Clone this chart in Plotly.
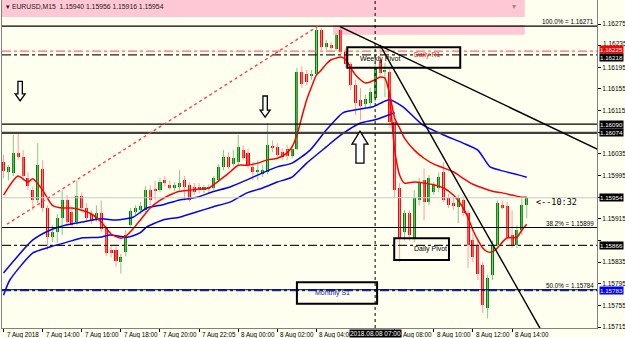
import plotly.graph_objects as go

# ---------------- data (EURUSD M15, bar index 0 = 7 Aug 12:00) ----------------
bars = list(range(108))
open_ = [1.16020,1.16001,1.15999,1.16036,1.16029,1.15990,1.15968,1.15949,1.16008,1.15935,
         1.15881,1.15890,1.15916,1.15949,1.15927,1.15909,1.15957,1.15935,1.15924,1.15914,
         1.15925,1.15898,1.15857,1.15857,1.15835,1.15853,1.15903,1.15927,1.15931,1.15931,
         1.15968,1.15968,1.15968,1.15986,1.15977,1.15972,1.15973,1.15986,1.15977,1.15973,
         1.15973,1.15968,1.15972,1.15972,1.15986,1.16010,1.16029,1.16016,1.16020,1.16042,
         1.16036,1.16010,1.16001,1.15997,1.16001,1.16049,1.16047,1.16038,1.16045,1.16031,
         1.16045,1.16186,1.16183,1.16179,1.16183,1.16264,1.16232,1.16236,1.16229,1.16264,
         1.16223,1.16201,1.16162,1.16135,1.16127,1.16129,1.16138,1.16209,1.16186,1.16186,
         1.16094,1.15972,1.15890,1.15925,1.15879,1.15949,1.15986,1.15946,1.15964,1.15972,
         1.16001,1.15953,1.15944,1.15936,1.15949,1.15925,1.15875,1.15866,1.15829,1.15750,
         1.15811,1.15866,1.15940,1.15938,1.15885,1.15866,1.15894,1.15940]
high = [1.16033,1.16014,1.16070,1.16075,1.16042,1.16001,1.15975,1.16055,1.16023,1.15940,
        1.15903,1.15924,1.15968,1.15959,1.15935,1.15986,1.15964,1.15944,1.15931,1.15940,
        1.15949,1.15903,1.15866,1.15864,1.15850,1.15894,1.15935,1.15940,1.15946,1.15975,
        1.15977,1.15986,1.15990,1.15994,1.15986,1.15983,1.16005,1.15994,1.15983,1.15981,
        1.15981,1.15977,1.15979,1.15994,1.16016,1.16042,1.16038,1.16042,1.16070,1.16051,
        1.16045,1.16020,1.16023,1.16014,1.16092,1.16060,1.16055,1.16045,1.16051,1.16051,
        1.16194,1.16197,1.16190,1.16190,1.16271,1.16268,1.16246,1.16242,1.16258,1.16268,
        1.16231,1.16205,1.16172,1.16157,1.16144,1.16157,1.16205,1.16236,1.16203,1.16194,
        1.16101,1.15981,1.15931,1.15931,1.15968,1.15990,1.16008,1.15996,1.15983,1.16001,
        1.16020,1.15961,1.15955,1.15959,1.15957,1.15931,1.15888,1.15875,1.15835,1.15811,
        1.15875,1.15949,1.15949,1.15946,1.15931,1.15903,1.15953,1.15956]
low = [1.15990,1.15986,1.15994,1.16023,1.15986,1.15968,1.15931,1.15944,1.15927,1.15857,
       1.15872,1.15870,1.15885,1.15903,1.15898,1.15903,1.15927,1.15909,1.15905,1.15909,
       1.15890,1.15846,1.15844,1.15826,1.15814,1.15846,1.15898,1.15920,1.15924,1.15927,
       1.15940,1.15949,1.15964,1.15975,1.15968,1.15966,1.15968,1.15949,1.15946,1.15959,
       1.15962,1.15962,1.15964,1.15968,1.15983,1.16005,1.16007,1.16012,1.16016,1.16023,
       1.16008,1.15986,1.15986,1.15992,1.15997,1.16038,1.16029,1.16023,1.16023,1.16027,
       1.16042,1.16157,1.16162,1.16172,1.16179,1.16227,1.16227,1.16227,1.16225,1.16218,
       1.16194,1.16153,1.16107,1.16097,1.16120,1.16123,1.16131,1.16179,1.16140,1.16083,
       1.15955,1.15835,1.15875,1.15875,1.15872,1.15940,1.15912,1.15940,1.15959,1.15964,
       1.15946,1.15935,1.15931,1.15907,1.15920,1.15824,1.15835,1.15802,1.15741,1.15731,
       1.15802,1.15861,1.15933,1.15875,1.15861,1.15861,1.15885,1.15916]
close = [1.16003,1.16010,1.16036,1.16029,1.15994,1.15975,1.15949,1.16014,1.15935,1.15881,
         1.15890,1.15916,1.15949,1.15909,1.15903,1.15957,1.15935,1.15916,1.15911,1.15925,
         1.15896,1.15851,1.15851,1.15838,1.15844,1.15885,1.15929,1.15935,1.15938,1.15968,
         1.15949,1.15967,1.15983,1.15981,1.15972,1.15977,1.15981,1.15973,1.15949,1.15964,
         1.15968,1.15973,1.15971,1.15990,1.16010,1.16029,1.16010,1.16027,1.16047,1.16027,
         1.16014,1.16001,1.16005,1.16005,1.16051,1.16047,1.16033,1.16029,1.16031,1.16045,
         1.16186,1.16164,1.16168,1.16183,1.16264,1.16232,1.16240,1.16231,1.16255,1.16223,
         1.16201,1.16162,1.16129,1.16123,1.16136,1.16149,1.16194,1.16185,1.16190,1.16094,
         1.15968,1.15879,1.15925,1.15885,1.15953,1.15983,1.15946,1.15990,1.15977,1.15992,
         1.15949,1.15940,1.15938,1.15953,1.15925,1.15866,1.15844,1.15814,1.15755,1.15805,
         1.15866,1.15944,1.15935,1.15881,1.15866,1.15894,1.15940,1.15954]

# moving averages (bar index, value)
red_ma_x = [0,2,3,5,6,8,10,12,14,16,18,20,22,24,25,27,28,30,32,34,36,38,40,42,44,46,48,50,52,54,
            56,58,59,60,61,62,63,64,65,66,67,68,69,70,71,72,73,74,75,76,77,78,79,80,81,82,84,86,
            88,90,92,94,96,98,100,102,104,106,107]
red_ma_y = [1.15959,1.15986,1.15994,1.15983,1.15989,1.15968,1.15940,1.15935,1.15935,1.15931,
            1.15924,1.15909,1.15887,1.15879,1.15883,1.15902,1.15913,1.15935,1.15949,1.15959,
            1.15966,1.15968,1.15970,1.15972,1.15985,1.15999,1.16014,1.16014,1.16018,1.16024,
            1.16027,1.16037,1.16048,1.16070,1.16103,1.16135,1.16159,1.16181,1.16190,1.16201,
            1.16209,1.16212,1.16214,1.16209,1.16194,1.16181,1.16172,1.16166,1.16168,1.16172,
            1.16177,1.16175,1.16144,1.16101,1.16083,1.16064,1.16042,1.16027,1.16016,1.16009,
            1.16002,1.15990,1.15979,1.15972,1.15966,1.15963,1.15959,1.15955,1.15955]
red_fast_x = [79,80,81,82,84,86,88,90,92,94,95,96,97,98,99,100,101,102,103,104,105,106,107]
red_fast_y = [1.16144,1.16042,1.15996,1.15981,1.15983,1.15981,1.15978,1.15972,1.15959,1.15935,
              1.15917,1.15894,1.15876,1.15861,1.15854,1.15854,1.15861,1.15872,1.15880,1.15880,
              1.15881,1.15894,1.15905]
blue1_x = [0,6,9.5,13,16,20,23,26.5,29.3,32.6,36,39.6,42.8,46.3,49.8,53,56,59,62.7,66,69.4,73,
           75.6,77.6,79,81.7,85.8,90,94,97,99.5,101.5,107]
blue1_y = [1.15815,1.15876,1.15894,1.15904,1.15909,1.15915,1.15913,1.15918,1.15935,1.15941,
           1.15950,1.15955,1.15965,1.15974,1.15987,1.16000,1.16011,1.16018,1.16042,1.16079,
           1.16111,1.16118,1.16122,1.16131,1.16135,1.16122,1.16088,1.16070,1.16055,1.16042,
           1.16011,1.16005,1.15992]
blue2_x = [0,1.3,6,9.5,13,16.3,19.7,21.8,25.3,27.9,29.3,32.6,36,39.6,42.8,46.3,49.8,53,56,59,
           62,66,69,73,76,80]
blue2_y = [1.15774,1.15802,1.15852,1.15863,1.15872,1.15880,1.15881,1.15885,1.15881,1.15889,
           1.15900,1.15913,1.15918,1.15928,1.15937,1.15946,1.15963,1.15972,1.15983,1.15992,
           1.16018,1.16048,1.16070,1.16092,1.16098,1.16111]

# horizontal objects
fib_levels = [1.16271, 1.15899, 1.15784]
fib_texts = ["100.0% = 1.16271", "38.2% = 1.15899", "50.0% = 1.15784"]
daily_r1 = 1.16225
weekly_pivot = 1.16218
res_line_1 = 1.16090
res_line_2 = 1.16074
bid_price = 1.15954
daily_pivot = 1.15866
monthly_s1 = 1.15783

# trend lines (bar, price)
fib_line = [(0.7, 1.15905), (64.3, 1.16271)]
trend_1 = [(68.8, 1.16270), (121.4, 1.16044)]
trend_2 = [(77.0, 1.16236), (109.7, 1.15713)]
crosshair_bar = 76

# axis ticks (labels hidden behind price boxes are left blank; 1.16235 is lifted slightly)
y_ticks = [1.15715,1.15755,1.15795,1.15835,1.15875,1.15915,1.15955,1.15995,1.16035,1.16075,
           1.16115,1.16155,1.16195,1.16235,1.16275]
y_tick_text = ["1.15715","1.15755","1.15795","1.15835","","1.15915","","1.15995","1.16035","",
               "1.16115","1.16155","1.16195","","1.16275"]
lifted_tick = (1.16235, "1.16235")
x_tick_bars = [0, 8, 16, 24, 32, 40, 48, 56, 64, 80, 88, 96, 104]
x_tick_text = ["7 Aug 2018", "7 Aug 14:00", "7 Aug 16:00", "7 Aug 18:00", "7 Aug 20:00",
               "7 Aug 22:05", "8 Aug 00:00", "8 Aug 02:00", "8 Aug 04:00", "8 Aug 08:00",
               "8 Aug 10:00", "8 Aug 12:00", "8 Aug 14:00"]

# ---------------- figure ----------------
BG = '#FFFFF0'
W, H = 625, 338
ML, MR, MT, MB = 2, 28, 0, 10
PW, PH = W - ML - MR, H - MT - MB
X0, X1 = -0.31, 121.37
Y0, Y1 = 1.157133, 1.163194
BPP = (X1 - X0) / PW      # bars per pixel
PPP = (Y1 - Y0) / PH      # price per pixel
FONT = "Liberation Sans, Arial, sans-serif"

fig = go.Figure()

up = [i for i in bars if close[i] >= open_[i]]
dn = [i for i in bars if close[i] < open_[i]]


def wicks(idx):
    xs, ys = [], []
    for i in idx:
        xs += [bars[i], bars[i], None]
        ys += [low[i], high[i], None]
    return xs, ys


for idx, col in ((up, '#86C886'), (dn, '#FF9C9C')):
    wx, wy = wicks(idx)
    fig.add_trace(go.Scatter(x=wx, y=wy, mode='lines', line=dict(color=col, width=1),
                             hoverinfo='skip', showlegend=False))

for idx, col in ((up, '#008000'), (dn, '#FF0000')):
    base = [min(open_[i], close[i]) for i in idx]
    hgt = [max(abs(close[i] - open_[i]), 0.000016) for i in idx]
    fig.add_trace(go.Bar(x=[bars[i] for i in idx], y=hgt, base=base, width=0.62,
                         marker=dict(color=col, line=dict(width=0)),
                         hoverinfo='skip', showlegend=False))

for xs, ys, col in ((blue2_x, blue2_y, '#0000FF'), (blue1_x, blue1_y, '#0000FF'),
                    (red_ma_x, red_ma_y, '#FF0000'), (red_fast_x, red_fast_y, '#FF0000')):
    fig.add_trace(go.Scatter(x=xs, y=ys, mode='lines',
                             line=dict(color=col, width=1.5, shape='spline', smoothing=0.6),
                             hoverinfo='skip', showlegend=False))

shapes = []
# pink zones
shapes.append(dict(type='rect', xref='x', yref='y', x0=X0, x1=106.6, y0=1.16288, y1=Y1,
                   fillcolor='#FFC8D4', line=dict(width=0), layer='below'))
shapes.append(dict(type='rect', xref='x', yref='y', x0=67.4, x1=106.6, y0=1.16255, y1=1.16273,
                   fillcolor='#FFC8D4', line=dict(width=0), layer='below'))


def hline(p, color, width=1, dash='solid'):
    shapes.append(dict(type='line', xref='x', yref='y', x0=X0, x1=X1, y0=p, y1=p,
                       line=dict(color=color, width=width, dash=dash), layer='above'))


hline(bid_price, '#C8C8C8', 1)
hline(daily_r1, '#FF6A6A', 1.3, 'dashdot')
hline(weekly_pivot, '#202020', 1.3, 'dashdot')
hline(res_line_1, '#000000', 1.2)
hline(res_line_2, '#404040', 2.2)
hline(daily_pivot, '#202020', 1.2, 'dashdot')
hline(monthly_s1, '#1030FF', 2, 'dashdot')
for p in fib_levels:
    hline(p, '#000000', 1.2)

for (a, b), col, dash in ((fib_line, '#FF4040', 'dot'), (trend_1, '#000000', 'solid'),
                          (trend_2, '#000000', 'solid')):
    shapes.append(dict(type='line', xref='x', yref='y', x0=a[0], y0=a[1], x1=b[0], y1=b[1],
                       line=dict(color=col, width=1.4, dash=dash), layer='above'))

shapes.append(dict(type='line', xref='x', yref='y', x0=crosshair_bar, x1=crosshair_bar,
                   y0=Y0, y1=Y1, line=dict(color='#000000', width=1, dash='dot'), layer='above'))

# label boxes (bar from, bar to, price low, price high)
boxes = [(70.3, 93.4, 1.16194, 1.16232), (79.9, 91.1, 1.15839, 1.15879), (60.0, 76.4, 1.15758, 1.15798)]
for bx0, bx1, by0, by1 in boxes:
    shapes.append(dict(type='rect', xref='x', yref='y', x0=bx0, x1=bx1, y0=by0, y1=by1,
                       line=dict(color='#000000', width=2), fillcolor='rgba(0,0,0,0)', layer='above'))


# hollow arrows (centre bar, top price, bottom price, direction, shaft px, head px, head height px)
arrows = [(3.4, 1.16169, 1.16133, 'down', 2.2, 5, 7),
          (53.5, 1.16142, 1.16103, 'down', 2.2, 5, 7),
          (72.9, 1.16077, 1.16018, 'up', 4, 8, 13)]
for cx, top, bot, d, sw, hw, hh in arrows:
    sx, hx, hy = sw * BPP, hw * BPP, hh * PPP
    if d == 'down':
        pts = [(cx - sx, top), (cx + sx, top), (cx + sx, bot + hy), (cx + hx, bot + hy), (cx, bot),
               (cx - hx, bot + hy), (cx - sx, bot + hy)]
    else:
        pts = [(cx - sx, bot), (cx + sx, bot), (cx + sx, top - hy), (cx + hx, top - hy), (cx, top),
               (cx - hx, top - hy), (cx - sx, top - hy)]
    path = 'M ' + ' L '.join(f'{px},{py}' for px, py in pts) + ' Z'
    shapes.append(dict(type='path', xref='x', yref='y', path=path, fillcolor='#FFFFFF',
                       line=dict(color='#000000', width=1.3), layer='above'))

ann = []
# header
ann.append(dict(text='▾ EURUSD,M15  1.15940 1.15956 1.15916 1.15954', xref='paper', yref='paper',
                x=0.004, y=0.998, xanchor='left', yanchor='top', showarrow=False,
                font=dict(family=FONT, size=6.8, color='#202020')))
ann.append(dict(text='▾', xref='paper', yref='paper', x=0.86, y=1.0, xanchor='center',
                yanchor='top', showarrow=False, font=dict(family=FONT, size=8, color='#909090')))
for p, t in zip(fib_levels, fib_texts):
    ann.append(dict(text=t, xref='x', yref='y', x=X1, y=p, xanchor='right', yanchor='bottom',
                    xshift=-1, yshift=-1, showarrow=False, font=dict(family=FONT, size=6.3, color='#000000')))
ann.append(dict(text='Weekly Pivot', xref='x', yref='y', x=77.0, y=1.16211, showarrow=False,
                font=dict(family=FONT, size=7, color='#000000')))
ann.append(dict(text='Daily R1', xref='x', yref='y', x=86.8, y=1.16217, showarrow=False,
                font=dict(family=FONT, size=7, color='#FF2020')))
ann.append(dict(text='Daily Pivot', xref='x', yref='y', x=87.3, y=1.15859, showarrow=False,
                font=dict(family=FONT, size=7, color='#000000')))
ann.append(dict(text='Monthly S1', xref='x', yref='y', x=67.3, y=1.15778, showarrow=False,
                font=dict(family=FONT, size=7, color='#1020A0')))
ann.append(dict(text='<--10:32', xref='x', yref='y', x=108.5, y=bid_price, xanchor='left',
                yanchor='middle', yshift=-4, showarrow=False,
                font=dict(family='DejaVu Sans Mono, monospace', size=8.5, color='#000000')))

# lifted scale label
ann.append(dict(text=lifted_tick[1], xref='paper', yref='y', x=1.0, y=lifted_tick[0], xanchor='left',
                yanchor='middle', xshift=4, yshift=2.5, showarrow=False,
                font=dict(family=FONT, size=6.5, color='#000000')))

# price boxes on the right scale (price, text, colour, vertical nudge in px)
price_boxes = [(daily_r1, '1.16225', '#FF0000', 1.5), (weekly_pivot, '1.16218', '#000000', -3),
               (res_line_1, '1.16090', '#000000', 0), (res_line_2, '1.16074', '#000000', 0),
               (bid_price, '1.15954', '#000000', 0), (daily_pivot, '1.15866', '#000000', 0),
               (monthly_s1, '1.15783', '#0000FF', 0)]
for p, t, col, nudge in price_boxes:
    ann.append(dict(text=t, xref='paper', yref='y', x=1.0, y=p, xanchor='left', yanchor='middle',
                    xshift=2, yshift=nudge, showarrow=False, bgcolor=col, borderpad=0,
                    font=dict(family=FONT, size=6.2, color='#FFFFFF')))

# time labels
for b, t in zip(x_tick_bars, x_tick_text):
    ann.append(dict(text=t, xref='x', yref='paper', x=b, y=0, xanchor='left', yanchor='top',
                    xshift=1, yshift=-1, showarrow=False, font=dict(family=FONT, size=6.3, color='#000000')))
ann.append(dict(text='2018.08.08 07:00', xref='x', yref='paper', x=crosshair_bar, y=0,
                xanchor='center', yanchor='top', yshift=-1, showarrow=False, bgcolor='#000000',
                borderpad=0, font=dict(family=FONT, size=6.5, color='#FFFFFF')))

fig.update_layout(
    width=W, height=H, margin=dict(l=ML, r=MR, t=MT, b=MB),
    paper_bgcolor=BG, plot_bgcolor=BG, barmode='overlay', bargap=0,
    showlegend=False, shapes=shapes, annotations=ann, hovermode=False,
    xaxis=dict(range=[X0, X1], showgrid=False, zeroline=False, tickvals=x_tick_bars,
               ticktext=['' for _ in x_tick_bars], ticks='outside', ticklen=3, tickcolor='#000000',
               showline=True, linecolor='#808080', linewidth=1, mirror=True, fixedrange=True),
    yaxis=dict(range=[Y0, Y1], side='right', showgrid=False, zeroline=False, tickvals=y_ticks,
               ticktext=y_tick_text, ticks='outside', ticklen=3,
               tickcolor='#000000', tickfont=dict(family=FONT, size=6.5, color='#000000'),
               showline=True, linecolor='#808080', linewidth=1, mirror=True, fixedrange=True),
)

fig.write_html('out.html', config={'displayModeBar': False})
